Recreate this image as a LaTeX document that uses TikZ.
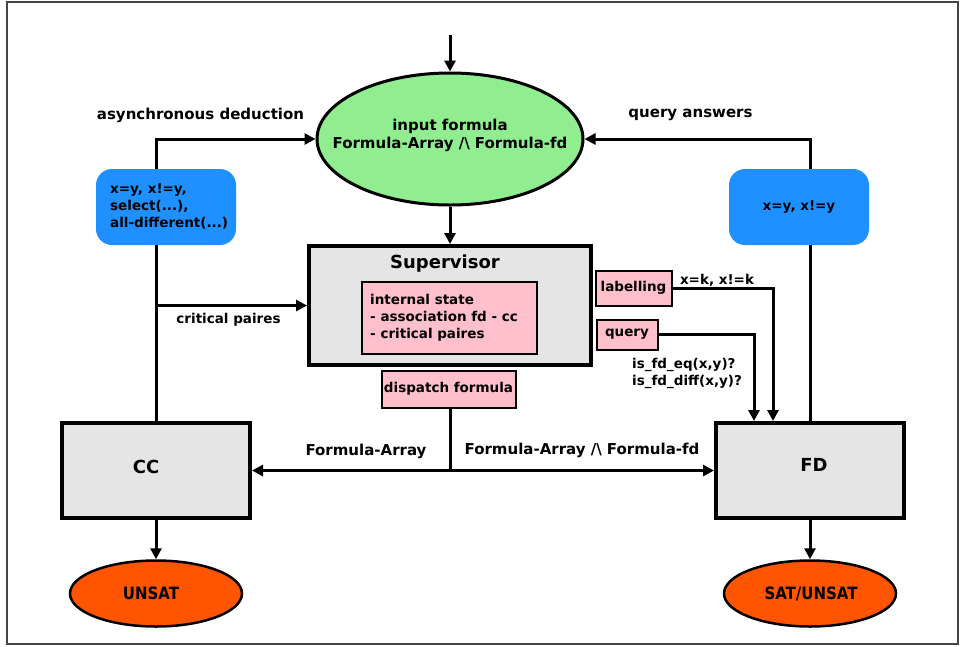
\documentclass[tikz,border=0pt]{standalone}
\usepackage{fontspec}
\setmainfont{DejaVu Sans}
\newfontfamily\condfont{DejaVu Sans}[FakeStretch=0.88]
\usetikzlibrary{arrows.meta,shapes.geometric,calc}
\definecolor{lgreen}{HTML}{90EE90}
\definecolor{dblue}{HTML}{1E90FF}
\definecolor{lpink}{HTML}{FFC0CB}
\definecolor{lgray}{HTML}{E5E5E5}
\definecolor{orng}{HTML}{FF5500}
\definecolor{framec}{HTML}{444444}
\newcommand\fA{\fontsize{15}{18}\selectfont\bfseries}
\newcommand\fB{\fontsize{13.5}{17}\selectfont\bfseries}
\newcommand\fC{\fontsize{18}{21}\selectfont\bfseries}
\newcommand\fD{\condfont\fontsize{17}{20}\selectfont\bfseries}
\tikzset{
  conn/.style={line width=3pt},
  arr/.style={line width=3pt,-{Triangle[length=11pt,width=11pt]}},
  bigbox/.style={draw,line width=4pt,fill=lgray,inner sep=0pt,rectangle},
  pinkbox/.style={draw,line width=2pt,fill=lpink,inner sep=0pt,rectangle,font=\fB},
  bluebox/.style={fill=dblue,rounded corners=16pt,inner sep=0pt,rectangle,minimum width=140pt,minimum height=76pt,font=\fB},
  resell/.style={ellipse,draw,line width=2.5pt,fill=orng,inner sep=0pt,minimum width=172pt,minimum height=66pt},
  lbl/.style={inner sep=0pt},
}
\begin{document}
\begin{tikzpicture}[x=1pt,y=-1pt]
\useasboundingbox (0,0) rectangle (960,646);
\draw[line width=2pt,framec] (7,1.5) rectangle (958,644);

% nodes
\node[ellipse,draw,line width=3pt,fill=lgreen,inner sep=0pt,minimum width=266pt,minimum height=132pt] (inp) at (450,139) {};
\node[lbl,align=center,font=\fA] (inptext) at (450,135) {input formula\\Formula-Array /\textbackslash{} Formula-fd};
\coordinate (top) at (450,35);

\node[bigbox,minimum width=282pt,minimum height=119pt] (sup) at (450,305.5) {};
\node[lbl,font=\fC] (suptitle) at (445,264) {Supervisor};
\node[pinkbox,minimum width=175pt,minimum height=72pt] (ist) at (449,317.5) {};
\node[lbl,anchor=west,align=left,font=\fB] (isttext) at (370,317.5) {internal state\\- association fd - cc\\- critical paires};

\node[pinkbox,minimum width=76pt,minimum height=35pt] (lab) at (633.5,288) {labelling};
\node[pinkbox,minimum width=61pt,minimum height=30pt] (qry) at (627,334.5) {query};
\node[pinkbox,minimum width=134pt,minimum height=37pt] (disp) at (448.5,389) {dispatch formula};

\node[bigbox,minimum width=188pt,minimum height=95pt] (cc) at (156,470.5) {};
\node[lbl,font=\fC] (cctext) at (146,467) {CC};
\node[bigbox,minimum width=188pt,minimum height=95pt] (fd) at (810,470.5) {};
\node[lbl,font=\fC] (fdtext) at (814,465) {FD};

\node[resell] (unsat) at (156,593.5) {};
\node[lbl,font=\fD] (unsattext) at (151,593.5) {UNSAT};
\node[resell] (sat) at (810,593.5) {};
\node[lbl,font=\fD] (sattext) at (811,593.5) {SAT/UNSAT};

\node[bluebox] (b1) at (166,207) {};
\node[lbl,anchor=west,align=left,font=\fB] (b1text) at (110,206) {x=y, x!=y,\\select(...),\\all-different(...)};
\node[bluebox] (b2) at (799,207) {x=y, x!=y};

\coordinate (fdin1) at ($(fd.north west)+(40,0)$);
\coordinate (fdin2) at ($(fd.north west)+(59,0)$);
\coordinate (split) at (disp.south -| inp.south);
\coordinate (splitb) at (split |- cc.east);
\coordinate (cpstart) at (sup.west -| cc.north);

% connectors
\draw[arr] (top) -- (inp.north);
\draw[arr] (inp.south) -- (sup.north);
\draw[conn] (cc.north) -- (cc.north |- b1.south);
\draw[arr] (cc.north |- b1.north) |- (inp.west);
\draw[arr] (cpstart) -- (sup.west);
\draw[conn] (fd.north) -- (fd.north |- b2.south);
\draw[arr] (fd.north |- b2.north) |- (inp.east);
\draw[arr] (lab.east) -| (fdin2);
\draw[arr] (qry.east) -| (fdin1);
\draw[conn] (split) -- (splitb);
\draw[arr] (splitb) -- (cc.east);
\draw[arr] (splitb) -- (fd.west);
\draw[arr] (cc.south) -- (unsat.north);
\draw[arr] (fd.south) -- (sat.north);

% labels
\node[lbl,font=\fA] (l1) at (200.5,115) {asynchronous deduction};
\node[lbl,font=\fA] (l2) at (690.5,115) {query answers};
\node[lbl,font=\fB] (l3) at (228.5,320) {critical paires};
\node[lbl,font=\fB] (l4) at (717,280) {x=k, x!=k};
\node[lbl,anchor=west,align=left,font=\fB] (l5) at (632,373) {is\_fd\_eq(x,y)?\\is\_fd\_diff(x,y)?};
\node[lbl,font=\fA] (l6) at (366,451) {Formula-Array};
\node[lbl,font=\fA] (l7) at (582,450) {Formula-Array /\textbackslash{} Formula-fd};
\end{tikzpicture}
\end{document}
